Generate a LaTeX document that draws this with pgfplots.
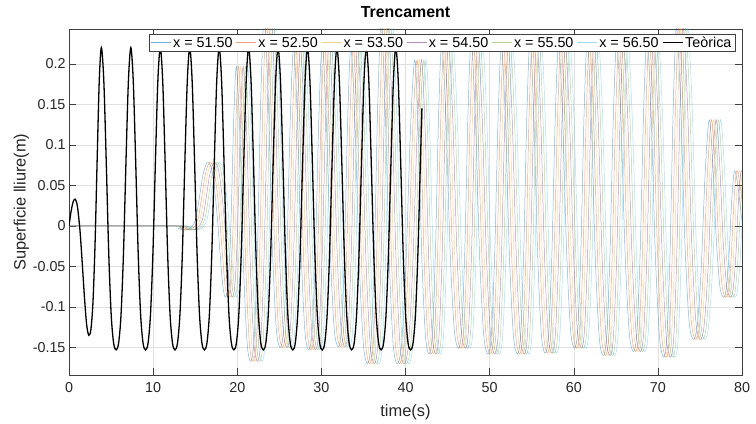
\documentclass[border=0pt]{standalone}
\usepackage{fontspec}
\setmainfont{Liberation Sans}
\usepackage{pgfplots}
\usepackage{pgfplotstable}
\pgfplotsset{compat=1.18}

% MATLAB default line colours
\definecolor{m1}{rgb}{0,0.447,0.741}
\definecolor{m2}{rgb}{0.85,0.325,0.098}
\definecolor{m3}{rgb}{0.929,0.694,0.125}
\definecolor{m4}{rgb}{0.494,0.184,0.556}
\definecolor{m5}{rgb}{0.466,0.674,0.188}
\definecolor{m6}{rgb}{0.301,0.745,0.933}
\definecolor{axgray}{rgb}{0.25,0.25,0.25}

% free-surface record at the first gauge (x = 51.50); the other gauges
% see the same wave train a little later
\pgfplotstableread[row sep=\\]{
t y \\
-2 0 \\ 12.3 0 \\ 13.0 -0.003 \\ 13.6 -0.005 \\ 14.2 -0.004 \\ 14.7 0.000 \\
15.1 0.010 \\ 15.5 0.035 \\ 15.9 0.062 \\ 16.3 0.076 \\ 16.6 0.078 \\ 16.95 0.070 \\
17.3 0.045 \\ 17.65 0.008 \\ 18.0 -0.040 \\ 18.3 -0.075 \\ 18.6 -0.088 \\
18.925 -0.071 \\ 19.25 0.003 \\ 19.575 0.129 \\ 19.9 0.197 \\
20.325 0.110 \\ 20.75 -0.051 \\ 21.175 -0.145 \\ 21.6 -0.167 \\
22.0 -0.141 \\ 22.4 -0.030 \\ 22.8 0.158 \\ 23.2 0.260 \\
23.675 0.162 \\ 24.15 -0.019 \\ 24.625 -0.125 \\ 25.1 -0.150 \\
25.5 -0.128 \\ 25.9 -0.032 \\ 26.3 0.131 \\ 26.7 0.220 \\
27.15 0.131 \\ 27.6 -0.034 \\ 28.05 -0.131 \\ 28.5 -0.153 \\
28.9 -0.130 \\ 29.3 -0.032 \\ 29.7 0.134 \\ 30.1 0.225 \\
30.575 0.135 \\ 31.05 -0.029 \\ 31.525 -0.127 \\ 32.0 -0.149 \\
32.375 -0.127 \\ 32.75 -0.031 \\ 33.125 0.131 \\ 33.5 0.220 \\
34.0 0.126 \\ 34.5 -0.045 \\ 35.0 -0.147 \\ 35.5 -0.170 \\
35.9 -0.145 \\ 36.3 -0.036 \\ 36.7 0.149 \\ 37.1 0.250 \\
37.575 0.149 \\ 38.05 -0.036 \\ 38.525 -0.145 \\ 39.0 -0.170 \\
39.525 -0.148 \\ 40.05 -0.050 \\ 40.575 0.115 \\ 41.1 0.205 \\
41.525 0.118 \\ 41.95 -0.042 \\ 42.375 -0.136 \\ 42.8 -0.158 \\
43.175 -0.135 \\ 43.55 -0.035 \\ 43.925 0.133 \\ 44.3 0.225 \\
44.8 0.135 \\ 45.3 -0.031 \\ 45.8 -0.128 \\ 46.3 -0.151 \\
46.675 -0.128 \\ 47.05 -0.030 \\ 47.425 0.137 \\ 47.8 0.228 \\
48.3 0.135 \\ 48.8 -0.035 \\ 49.3 -0.135 \\ 49.8 -0.158 \\
50.2 -0.135 \\ 50.6 -0.036 \\ 51.0 0.131 \\ 51.4 0.222 \\
51.875 0.131 \\ 52.35 -0.036 \\ 52.825 -0.135 \\ 53.3 -0.158 \\
53.675 -0.135 \\ 54.05 -0.034 \\ 54.425 0.137 \\ 54.8 0.230 \\
55.25 0.137 \\ 55.7 -0.033 \\ 56.15 -0.134 \\ 56.6 -0.157 \\
57.0 -0.134 \\ 57.4 -0.035 \\ 57.8 0.133 \\ 58.2 0.224 \\
58.675 0.134 \\ 59.15 -0.031 \\ 59.625 -0.129 \\ 60.1 -0.151 \\
60.475 -0.128 \\ 60.85 -0.030 \\ 61.225 0.137 \\ 61.6 0.228 \\
62.075 0.135 \\ 62.55 -0.036 \\ 63.025 -0.137 \\ 63.5 -0.160 \\
63.9 -0.137 \\ 64.3 -0.037 \\ 64.7 0.133 \\ 65.1 0.226 \\
65.6 0.135 \\ 66.1 -0.033 \\ 66.6 -0.132 \\ 67.1 -0.155 \\
67.5 -0.132 \\ 67.9 -0.031 \\ 68.3 0.139 \\ 68.7 0.232 \\
69.2 0.137 \\ 69.7 -0.036 \\ 70.2 -0.138 \\ 70.7 -0.162 \\
71.075 -0.138 \\ 71.45 -0.032 \\ 71.825 0.147 \\ 72.2 0.245 \\
72.7 0.153 \\ 73.2 -0.017 \\ 73.7 -0.117 \\ 74.2 -0.140 \\
74.675 -0.124 \\ 75.15 -0.053 \\ 75.625 0.066 \\ 76.1 0.131 \\
76.525 0.078 \\ 76.95 -0.018 \\ 77.375 -0.075 \\ 77.8 -0.088 \\
78.125 -0.079 \\ 78.45 -0.038 \\ 78.775 0.031 \\ 79.1 0.068 \\
79.5 0.050 \\ 79.9 0.015 \\ 80.3 -0.020 \\
}\gauge

% theoretical (second-order) wave, T = 3.5 s
\pgfplotstableread[row sep=\\]{
t y \\
0 0 \\ 0.25 0.018 \\ 0.5 0.030 \\ 0.75 0.033 \\ 1.0 0.024 \\ 1.3 -0.005 \\ 1.6 -0.050 \\ 1.85 -0.090 \\
2.1 -0.122 \\ 2.35 -0.135 \\ 2.6 -0.128 \\ 2.85 -0.094 \\ 3.1 -0.021 \\ 3.35 0.083 \\ 3.6 0.180 \\
3.85 0.220 \\ 4.142 0.178 \\ 4.433 0.077 \\ 4.725 -0.034 \\ 5.017 -0.110 \\ 5.308 -0.145 \\ 5.6 -0.153 \\ 5.892 -0.145 \\ 6.183 -0.110 \\ 6.475 -0.034 \\ 6.767 0.077 \\ 7.058 0.178 \\
7.35 0.220 \\ 7.642 0.178 \\ 7.933 0.077 \\ 8.225 -0.034 \\ 8.517 -0.110 \\ 8.808 -0.145 \\ 9.1 -0.153 \\ 9.392 -0.145 \\ 9.683 -0.110 \\ 9.975 -0.034 \\ 10.267 0.077 \\ 10.558 0.178 \\
10.85 0.220 \\ 11.142 0.178 \\ 11.433 0.077 \\ 11.725 -0.034 \\ 12.017 -0.110 \\ 12.308 -0.145 \\ 12.6 -0.153 \\ 12.892 -0.145 \\ 13.183 -0.110 \\ 13.475 -0.034 \\ 13.767 0.077 \\ 14.058 0.178 \\
14.35 0.220 \\ 14.642 0.178 \\ 14.933 0.077 \\ 15.225 -0.034 \\ 15.517 -0.110 \\ 15.808 -0.145 \\ 16.1 -0.153 \\ 16.392 -0.145 \\ 16.683 -0.110 \\ 16.975 -0.034 \\ 17.267 0.077 \\ 17.558 0.178 \\
17.85 0.220 \\ 18.142 0.178 \\ 18.433 0.077 \\ 18.725 -0.034 \\ 19.017 -0.110 \\ 19.308 -0.145 \\ 19.6 -0.153 \\ 19.892 -0.145 \\ 20.183 -0.110 \\ 20.475 -0.034 \\ 20.767 0.077 \\ 21.058 0.178 \\
21.35 0.220 \\ 21.642 0.178 \\ 21.933 0.077 \\ 22.225 -0.034 \\ 22.517 -0.110 \\ 22.808 -0.145 \\ 23.1 -0.153 \\ 23.392 -0.145 \\ 23.683 -0.110 \\ 23.975 -0.034 \\ 24.267 0.077 \\ 24.558 0.178 \\
24.85 0.220 \\ 25.142 0.178 \\ 25.433 0.077 \\ 25.725 -0.034 \\ 26.017 -0.110 \\ 26.308 -0.145 \\ 26.6 -0.153 \\ 26.892 -0.145 \\ 27.183 -0.110 \\ 27.475 -0.034 \\ 27.767 0.077 \\ 28.058 0.178 \\
28.35 0.220 \\ 28.642 0.178 \\ 28.933 0.077 \\ 29.225 -0.034 \\ 29.517 -0.110 \\ 29.808 -0.145 \\ 30.1 -0.153 \\ 30.392 -0.145 \\ 30.683 -0.110 \\ 30.975 -0.034 \\ 31.267 0.077 \\ 31.558 0.178 \\
31.85 0.220 \\ 32.142 0.178 \\ 32.433 0.077 \\ 32.725 -0.034 \\ 33.017 -0.110 \\ 33.308 -0.145 \\ 33.6 -0.153 \\ 33.892 -0.145 \\ 34.183 -0.110 \\ 34.475 -0.034 \\ 34.767 0.077 \\ 35.058 0.178 \\
35.35 0.220 \\ 35.642 0.178 \\ 35.933 0.077 \\ 36.225 -0.034 \\ 36.517 -0.110 \\ 36.808 -0.145 \\ 37.1 -0.153 \\ 37.392 -0.145 \\ 37.683 -0.110 \\ 37.975 -0.034 \\ 38.267 0.077 \\ 38.558 0.178 \\
38.85 0.220 \\ 39.142 0.178 \\ 39.433 0.077 \\ 39.725 -0.034 \\ 40.017 -0.110 \\ 40.308 -0.145 \\ 40.6 -0.153 \\ 40.892 -0.145 \\ 41.183 -0.110 \\ 41.475 -0.034 \\ 41.767 0.077 \\ 41.95 0.145 \\
}\theo

\begin{document}
\begin{tikzpicture}
\begin{axis}[
  name=ax,
  scale only axis,
  width=673bp, height=346bp,
  xmin=0, xmax=80, ymin=-0.184, ymax=0.243,
  xtick={0,10,...,80},
  ytick={-0.15,-0.1,-0.05,0,0.05,0.1,0.15,0.2},
  yticklabels={-0.15,-0.1,-0.05,0,0.05,0.1,0.15,0.2},
  scaled y ticks=false,
  xtick pos=both, ytick pos=both,
  tick align=inside,
  major tick length=7bp,
  tick style={axgray, line width=0.5bp},
  axis line style={axgray, line width=0.6bp},
  grid=major,
  grid style={black!12, line width=0.5bp},
  /pgf/number format/assume math mode=true,
  tick label style={font=\fontsize{14.4}{16}\selectfont, text=black!85},
  xticklabel style={yshift=-4bp},
  title={\textbf{Trencament}},
  title style={font=\fontsize{16}{18}\selectfont, at={(axis description cs:0.5,1)}, anchor=base, yshift=5.5bp},
  xlabel={time(s)},
  xlabel style={font=\fontsize{16.5}{18}\selectfont, text=black!85, at={(axis description cs:0.5,-0.1185)}, anchor=base},
  ylabel={Superficie lliure(m)},
  ylabel style={font=\fontsize{16.5}{18}\selectfont, text=black!85, at={(axis description cs:-0.0706,0.5)}, anchor=center},
  legend columns=7,
  legend image code/.code={\draw[#1] (0bp,0bp) -- (20bp,0bp);},
  legend style={
    at={(0.9896,0.9855)}, anchor=north east,
    draw=axgray, line width=0.5bp, fill=white,
    font=\fontsize{14.4}{16}\selectfont,
    inner xsep=1.5bp, inner ysep=1bp,
    nodes={inner xsep=1.8bp, inner ysep=1.5bp},
    /tikz/every even column/.append style={column sep=1.6bp},
  },
  every axis plot/.append style={smooth, tension=0.5},
  gauge/.style={line width=0.5bp, draw opacity=0.5,
    legend image post style={line width=0.6bp, draw opacity=0.55}},
]
\addplot[m1, gauge] table[x expr=\thisrow{t}, y=y] {\gauge};
\addlegendentry{x = 51.50}
\addplot[m2, gauge] table[x expr=\thisrow{t}+0.27, y=y] {\gauge};
\addlegendentry{x = 52.50}
\addplot[m3, gauge] table[x expr=\thisrow{t}+0.54, y=y] {\gauge};
\addlegendentry{x = 53.50}
\addplot[m4, gauge] table[x expr=\thisrow{t}+0.81, y=y] {\gauge};
\addlegendentry{x = 54.50}
\addplot[m5, gauge] table[x expr=\thisrow{t}+1.08, y=y] {\gauge};
\addlegendentry{x = 55.50}
\addplot[m6, gauge] table[x expr=\thisrow{t}+1.35, y=y] {\gauge};
\addlegendentry{x = 56.50}
\addplot[black, line width=1.3bp] table[x=t, y=y] {\theo};
\addlegendentry{Teòrica}
\end{axis}
\pgfresetboundingbox
\path[use as bounding box] ([shift={(-69bp,-48bp)}]ax.south west) rectangle ([shift={(14bp,29bp)}]ax.north east);
\end{tikzpicture}
\end{document}
